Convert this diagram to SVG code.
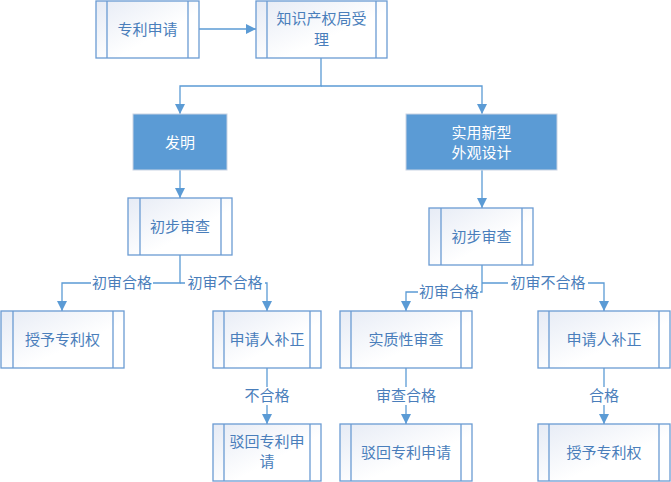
<svg xmlns="http://www.w3.org/2000/svg" width="671" height="482" viewBox="0 0 671 482">
<defs>
<linearGradient id="g" x1="0" y1="0" x2="1" y2="1">
<stop offset="0" stop-color="#E6EBF5"/>
<stop offset="0.6" stop-color="#FFFFFF"/>
</linearGradient>
<marker id="a" viewBox="0 0 10 10" refX="10" refY="5" markerWidth="10" markerHeight="10" markerUnits="userSpaceOnUse" orient="auto">
<path d="M0,0 L10,5 L0,10 z" fill="#5B9BD5"/>
</marker>
</defs>
<style>
.b{fill:url(#g);stroke:#6A9BD3;stroke-width:1.3}
.i{stroke:#6A9BD3;stroke-width:1.3;fill:none}
.h{fill:#5B9BD5;stroke:#C9D3E3;stroke-width:1}
.t{font-family:"Noto Sans CJK SC","Liberation Sans",sans-serif;font-size:15px;fill:#4A7EBB;text-anchor:middle}
.w{fill:#FFFFFF}
.c{stroke:#5B9BD5;stroke-width:1.3;fill:none;marker-end:url(#a)}
.l{font-family:"Noto Sans CJK SC","Liberation Sans",sans-serif;font-size:15px;fill:#4A7EBB;text-anchor:middle}
.lb{fill:#FFFFFF}
</style>
<g id="connectors">
<path class="c" d="M199,29 H256"/>
<path class="c" d="M321,58 V86 H180 V114"/>
<path class="c" d="M321,86 H482 V114"/>
<path class="c" d="M180,170 V198"/>
<path class="c" d="M482,170 V208"/>
<path class="c" d="M180,255 V283 H62 V311"/>
<path class="c" d="M180,283 H267 V311"/>
<path class="c" d="M267,368 V424"/>
<path class="c" d="M482,265 V292 H406 V311"/>
<path class="c" d="M482,283 H604 V311"/>
<path class="c" d="M406,368 V424"/>
<path class="c" d="M604,368 V424"/>
<rect class="lb" x="91" y="274" width="62" height="18"/>
<text class="l" x="122" y="288">初审合格</text>
<rect class="lb" x="185" y="274" width="80" height="18"/>
<text class="l" x="225" y="288">初审不合格</text>
<rect class="lb" x="243" y="387" width="48" height="18"/>
<text class="l" x="267" y="401">不合格</text>
<rect class="lb" x="418" y="283" width="62" height="18"/>
<text class="l" x="449" y="297">初审合格</text>
<rect class="lb" x="508" y="274" width="80" height="18"/>
<text class="l" x="548" y="288">初审不合格</text>
<rect class="lb" x="375" y="387" width="62" height="18"/>
<text class="l" x="406" y="401">审查合格</text>
<rect class="lb" x="588" y="387" width="32" height="18"/>
<text class="l" x="604" y="401">合格</text>
</g>
<g id="n1">
<rect class="b" x="96" y="1" width="103" height="57"/>
<path class="i" d="M107,1 V58 M188,1 V58"/>
<text class="t" x="147.5" y="35">专利申请</text>
</g>
<g id="n2">
<rect class="b" x="256" y="1" width="131" height="57"/>
<path class="i" d="M267,1 V58 M376,1 V58"/>
<text class="t" x="321.5" y="24">知识产权局受</text>
<text class="t" x="321.5" y="45">理</text>
</g>
<g id="n3">
<rect class="h" x="133" y="114" width="94" height="56"/>
<text class="t w" x="180" y="148">发明</text>
</g>
<g id="n4">
<rect class="h" x="406" y="114" width="151" height="56"/>
<text class="t w" x="481.5" y="138">实用新型</text>
<text class="t w" x="481.5" y="158">外观设计</text>
</g>
<g id="n5">
<rect class="b" x="128" y="198" width="104" height="57"/>
<path class="i" d="M140,198 V255 M221,198 V255"/>
<text class="t" x="180" y="232">初步审查</text>
</g>
<g id="n6">
<rect class="b" x="429" y="208" width="104" height="57"/>
<path class="i" d="M441,208 V265 M522,208 V265"/>
<text class="t" x="481.5" y="242">初步审查</text>
</g>
<g id="n7">
<rect class="b" x="1" y="311" width="123" height="57"/>
<path class="i" d="M13,311 V368 M113,311 V368"/>
<text class="t" x="62.5" y="345">授予专利权</text>
</g>
<g id="n8">
<rect class="b" x="213" y="311" width="108" height="57"/>
<path class="i" d="M224,311 V368 M310,311 V368"/>
<text class="t" x="267" y="345">申请人补正</text>
</g>
<g id="n9">
<rect class="b" x="213" y="424" width="108" height="57"/>
<path class="i" d="M224,424 V481 M310,424 V481"/>
<text class="t" x="267" y="447">驳回专利申</text>
<text class="t" x="267" y="467">请</text>
</g>
<g id="n10">
<rect class="b" x="340" y="311" width="132" height="57"/>
<path class="i" d="M351,311 V368 M461,311 V368"/>
<text class="t" x="406" y="345">实质性审查</text>
</g>
<g id="n11">
<rect class="b" x="340" y="424" width="132" height="57"/>
<path class="i" d="M351,424 V481 M461,424 V481"/>
<text class="t" x="406" y="458">驳回专利申请</text>
</g>
<g id="n12">
<rect class="b" x="538" y="311" width="132" height="57"/>
<path class="i" d="M549,311 V368 M659,311 V368"/>
<text class="t" x="604" y="345">申请人补正</text>
</g>
<g id="n13">
<rect class="b" x="538" y="424" width="132" height="57"/>
<path class="i" d="M549,424 V481 M659,424 V481"/>
<text class="t" x="604" y="458">授予专利权</text>
</g>
</svg>
